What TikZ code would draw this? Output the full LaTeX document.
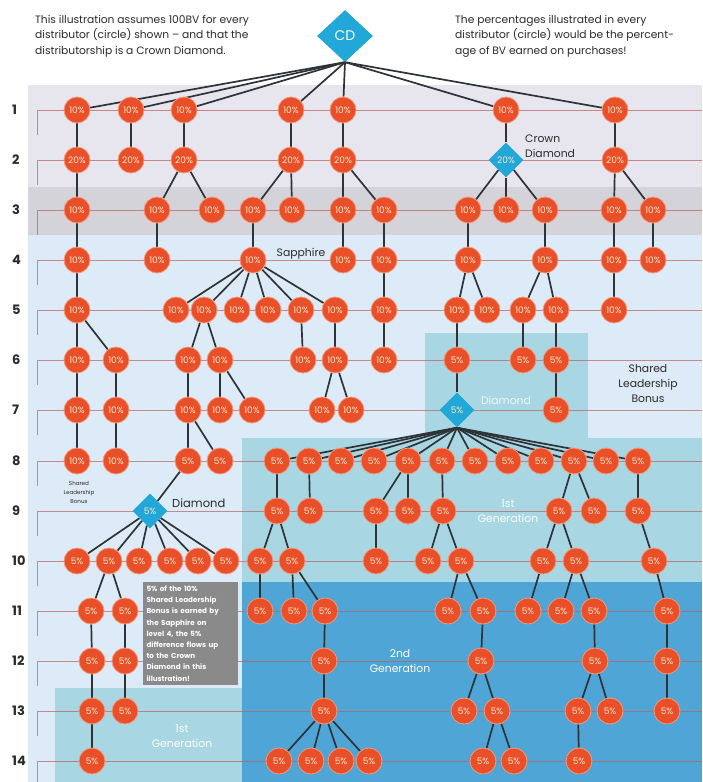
\documentclass[tikz,border=0pt]{standalone}
\usepackage{fontspec}
\setmainfont{Poppins}
\usetikzlibrary{shapes.geometric}
\definecolor{nred}{HTML}{E9502A}
\definecolor{nrim}{HTML}{F39A7A}
\definecolor{ntext}{HTML}{FFE8C6}
\definecolor{dblue}{HTML}{22A8D8}
\definecolor{edgec}{HTML}{2E3338}
\definecolor{linec}{HTML}{B9605E}
\definecolor{bgtop}{HTML}{E7E6EF}
\definecolor{bgband}{HTML}{D4D3D9}
\definecolor{bglight}{HTML}{DCEBF7}
\definecolor{bgteal}{HTML}{A8D6E2}
\definecolor{bgdark}{HTML}{4EA5D6}
\definecolor{boxgray}{HTML}{8A8A8A}
\definecolor{txt}{HTML}{2B2B2B}
\pgfdeclarelayer{bg}
\pgfdeclarelayer{edges}
\pgfsetlayers{bg,edges,main}
\begin{document}
\begin{tikzpicture}[x=1pt,y=-1pt,
  pc/.style={circle,fill=nred,draw=nrim,line width=0.8pt,minimum size=26pt,inner sep=0pt,text=ntext,font=\fontsize{9}{9}\selectfont},
  dia/.style={diamond,fill=dblue,minimum width=35pt,minimum height=35pt,inner sep=0pt,text=ntext,font=\fontsize{9}{9}\selectfont},
  edge/.style={draw=edgec,line width=1.7pt},
  rowline/.style={draw=linec,line width=0.75pt,opacity=0.7},
  rowlab/.style={anchor=west,inner sep=0pt,text=txt,font=\fontsize{13}{13}\selectfont\bfseries},
  lab/.style={inner sep=0pt,text=txt,align=center,font=\fontsize{10.8}{15}\selectfont},
  wlab/.style={inner sep=0pt,text=white,align=center,font=\fontsize{10.8}{15}\selectfont}]
\useasboundingbox (0,0) rectangle (702,782);
\begin{pgfonlayer}{bg}
\fill[white] (0,0) rectangle (702,782);
\fill[bgtop] (28,85) rectangle (702,187);
\fill[bgband] (28,187) rectangle (702,235);
\fill[bglight] (28,235) rectangle (702,782);
\fill[bgteal] (425,333) rectangle (588,439);
\fill[bgteal] (242,438) rectangle (702,582);
\fill[bgdark] (242,582) rectangle (702,782);
\fill[bgteal] (55,688) rectangle (242,782);
\foreach \y in {110,160,210,260,310,360,410,461,511,561,611,661,711,761}
  \draw[rowline] (37,\y+25) -- (37,\y) -- (702,\y);
\end{pgfonlayer}
% row labels
\foreach \k/\y in {1/110,2/160,3/210,4/260,5/310,6/360,7/410,8/461,9/511,10/561,11/611,12/661,13/711,14/761}
  \node[rowlab] (lab\k) at (12,\y) {\k};
% texts
\node[anchor=north west,align=left,inner sep=0pt,text=txt,font=\fontsize{10.7}{15.5}\selectfont] (tl) at (35,15)
  {This illustration assumes 100BV for every\\distributor (circle) shown -- and that the\\distributorship is a Crown Diamond.};
\node[anchor=north west,align=left,inner sep=0pt,text=txt,font=\fontsize{10.7}{15.5}\selectfont] (tr) at (455,15)
  {The percentages illustrated in every\\distributor (circle) would be the percent-\\age of BV earned on purchases!};
\node[diamond,fill=dblue,minimum width=56pt,minimum height=52pt,inner sep=0pt,text=white,font=\fontsize{14}{14}\selectfont] (cd) at (345,36) {CD};
% row 1
\foreach \x in {77,131,184,291,343,506,615} \node[pc] (n1-\x) at (\x,110) {10\%};
% row 2
\foreach \x in {77,131,184,291,343,615} \node[pc] (n2-\x) at (\x,160) {20\%};
\node[dia] (n2-506) at (506,160) {20\%};
% row 3
\foreach \x in {77,157,212,253,292,343,384,468,506,545,614,653} \node[pc] (n3-\x) at (\x,210) {10\%};
% row 4
\foreach \x in {77,157,253,343,384,468,545,614,653} \node[pc] (n4-\x) at (\x,260) {10\%};
% row 5
\foreach \x in {77,176,204,237,268,301,335,384,457,487,523,556,614} \node[pc] (n5-\x) at (\x,310) {10\%};
% row 6
\foreach \x in {77,116,188,220,303,335,384} \node[pc] (n6-\x) at (\x,360) {10\%};
\foreach \x in {457,523,556} \node[pc] (n6-\x) at (\x,360) {5\%};
% row 7
\foreach \x in {77,116,188,220,252,322,351} \node[pc] (n7-\x) at (\x,410) {10\%};
\node[dia] (n7-457) at (457,410) {5\%};
\node[pc] (n7-556) at (556,410) {5\%};
% row 8
\foreach \x in {77,116} \node[pc] (n8-\x) at (\x,461) {10\%};
\foreach \x in {188,220,277,309,341,374,408,442,475,508,541,574,606,638} \node[pc] (n8-\x) at (\x,461) {5\%};
% row 9
\node[dia] (n9-150) at (150,511) {5\%};
\foreach \x in {277,310,376,408,443,559,594,638} \node[pc] (n9-\x) at (\x,511) {5\%};
% row 10
\foreach \x in {77,109,139,170,198,226,260,292,376,428,461,543,576,654} \node[pc] (n10-\x) at (\x,561) {5\%};
% row 11
\foreach \x in {91,125,260,294,325,448,483,528,561,594,667} \node[pc] (n11-\x) at (\x,611) {5\%};
% row 12
\foreach \x in {92,125,324,481,595,667} \node[pc] (n12-\x) at (\x,661) {5\%};
% row 13
\foreach \x in {92,125,324,464,497,578,610,667} \node[pc] (n13-\x) at (\x,711) {5\%};
% row 14
\foreach \x in {92,279,311,341,369,483,514,579} \node[pc] (n14-\x) at (\x,761) {5\%};
% labels
\node[lab] (sapph) at (301,254) {Sapphire};
\node[lab,anchor=west,align=left] (crownd) at (525,146) {Crown\\Diamond};
\node[lab,text=white!80!bgteal] (diamlab) at (506,400) {Diamond};
\node[lab] (slb) at (648,384) {Shared\\Leadership\\Bonus};
\node[lab,anchor=west,font=\fontsize{11.5}{12}\selectfont] (diam9) at (172,503) {Diamond};
\node[lab,font=\fontsize{5.6}{9}\selectfont] (slbs) at (79,492) {Shared\\Leadership\\Bonus};
\node[wlab] (gen1a) at (508,511) {1st\\Generation};
\node[wlab] (gen2) at (400,661) {2nd\\Generation};
\node[wlab] (gen1b) at (182,736) {1st\\Generation};
\node[fill=boxgray,minimum width=95pt,minimum height=103pt,text width=88pt,inner sep=3.5pt,align=left,text=white,font=\fontsize{7.2}{11.2}\selectfont\bfseries] (note) at (190.5,633.5)
  {5\% of the 10\%\\Shared Leadership\\Bonus is earned by\\the Sapphire on\\level 4, the 5\%\\difference flows up\\to the Crown\\Diamond in this\\illustration!};
% edges
\begin{pgfonlayer}{edges}
\foreach \x in {77,131,184,291,343,506,615} \draw[edge] (cd.south) -- (n1-\x);
\foreach \x in {77,131,184,291,343,506,615} \draw[edge] (n1-\x) -- (n2-\x);
\foreach \a/\b in {77/77,184/157,184/212,291/253,291/292,343/343,343/384,506/468,506/506,506/545,615/614,615/653}
  \draw[edge] (n2-\a) -- (n3-\b);
\foreach \a/\b in {77/77,157/157,253/253,343/343,384/384,468/468,545/545,614/614,653/653}
  \draw[edge] (n3-\a) -- (n4-\b);
\foreach \a/\b in {77/77,253/176,253/204,253/237,253/268,253/301,253/335,384/384,468/457,468/487,545/523,545/556,614/614}
  \draw[edge] (n4-\a) -- (n5-\b);
\foreach \a/\b in {77/77,77/116,204/188,204/220,301/303,335/335,384/384,457/457,523/523,556/556}
  \draw[edge] (n5-\a) -- (n6-\b);
\foreach \a/\b in {77/77,116/116,188/188,220/220,220/252,335/322,335/351,457/457,556/556}
  \draw[edge] (n6-\a) -- (n7-\b);
\foreach \a/\b in {77/77,116/116,188/188,188/220}
  \draw[edge] (n7-\a) -- (n8-\b);
\foreach \b in {277,309,341,374,408,442,475,508,541,574,606,638}
  \draw[edge] (n7-457.south) -- (n8-\b);
\foreach \a/\b in {188/150,277/277,309/310,408/376,408/408,442/443,574/559,574/594,638/638}
  \draw[edge] (n8-\a) -- (n9-\b);
\foreach \a/\b in {150/77,150/109,150/139,150/170,150/198,150/226,277/260,277/292,376/376,443/428,443/461,559/543,559/576,638/654}
  \draw[edge] (n9-\a) -- (n10-\b);
\foreach \a/\b in {109/91,109/125,260/260,292/294,292/325,461/448,461/483,543/528,576/561,576/594,654/667}
  \draw[edge] (n10-\a) -- (n11-\b);
\foreach \a/\b in {91/92,125/125,325/324,483/481,594/595,667/667}
  \draw[edge] (n11-\a) -- (n12-\b);
\foreach \a/\b in {92/92,125/125,324/324,481/464,481/497,595/578,595/610,667/667}
  \draw[edge] (n12-\a) -- (n13-\b);
\foreach \a/\b in {92/92,324/279,324/311,324/341,324/369,497/483,497/514,578/579}
  \draw[edge] (n13-\a) -- (n14-\b);
\end{pgfonlayer}
\end{tikzpicture}
\end{document}
